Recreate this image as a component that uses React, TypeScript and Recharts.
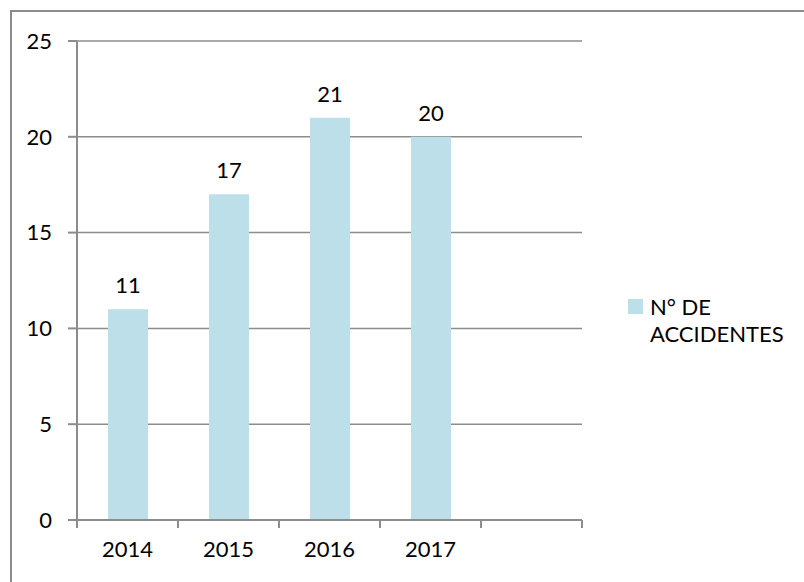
import React from 'react';
import { BarChart, Bar, XAxis, YAxis, CartesianGrid, LabelList } from 'recharts';

const years = ['2014', '2015', '2016', '2017', ''];
const accidents: (number | null)[] = [11, 17, 21, 20, null];
const yTicks = [0, 5, 10, 15, 20, 25];
const seriesName = 'N° DE ACCIDENTES';

const data = years.map((year, i) => ({ year, value: accidents[i] }));

const FONT = 'Lato, "Noto Sans", sans-serif';
const GRAY = '#8c8c8c';
const BAR = '#bddfe9';

const PLOT_W = 505;

const YearTick = (props: any) => {
  const { x, y, payload, index, visibleTicksCount } = props;
  const half = payload && payload.offset ? payload.offset : PLOT_W / years.length / 2;
  const last = index === visibleTicksCount - 1;
  return (
    <g>
      <line x1={x - half} x2={x - half} y1={y - 8} y2={y} stroke={GRAY} strokeWidth={2} />
      {last && <line x1={x + half} x2={x + half} y1={y - 8} y2={y} stroke={GRAY} strokeWidth={2} />}
      <text x={x} y={y + 11} dy="0.8em" textAnchor="middle" fill="#000" fontSize={22} fontFamily={FONT}>
        {payload.value}
      </text>
    </g>
  );
};

// legend kept outside the chart so it doesn't eat plot space
const LegendBox = () => (
  <div
    style={{
      position: 'absolute',
      left: 628,
      top: 293,
      display: 'flex',
      alignItems: 'flex-start',
      fontFamily: FONT,
      fontSize: 22,
      color: '#000',
      lineHeight: '27px',
    }}
  >
    <span style={{ width: 15, height: 15, background: BAR, marginTop: 6, marginRight: 7, flexShrink: 0 }} />
    <span style={{ width: 150 }}>{seriesName}</span>
  </div>
);

export default function App() {
  return (
    <div style={{ position: 'absolute', left: 0, top: 0, width: 804, height: 582, overflow: 'hidden', background: '#fff' }}>
      <div
        style={{
          position: 'absolute',
          left: 10,
          top: 10,
          width: 900,
          height: 700,
          borderLeft: `2px solid ${GRAY}`,
          borderTop: `2px solid ${GRAY}`,
        }}
      />
      <div style={{ position: 'absolute', left: 0, top: 0 }}>
        <BarChart width={804} height={582} data={data} margin={{ top: 41, right: 222, bottom: 0, left: 0 }}>
          <CartesianGrid vertical={false} stroke={GRAY} strokeWidth={1.5} />
          <XAxis
            dataKey="year"
            height={62}
            interval={0}
            axisLine={{ stroke: GRAY, strokeWidth: 2 }}
            tickLine={false}
            tick={<YearTick />}
          />
          <YAxis
            width={77}
            domain={[0, 25]}
            ticks={yTicks}
            interval={0}
            axisLine={{ stroke: GRAY, strokeWidth: 2 }}
            tickLine={{ stroke: GRAY, strokeWidth: 2 }}
            tickSize={9}
            tickMargin={16}
            tick={{ fill: '#000', fontSize: 22, fontFamily: FONT }}
          />
          <Bar dataKey="value" name={seriesName} fill={BAR} barSize={40} isAnimationActive={false}>
            <LabelList dataKey="value" position="top" offset={16} fill="#000" fontSize={22} fontFamily={FONT} />
          </Bar>
        </BarChart>
      </div>
      <LegendBox />
    </div>
  );
}
